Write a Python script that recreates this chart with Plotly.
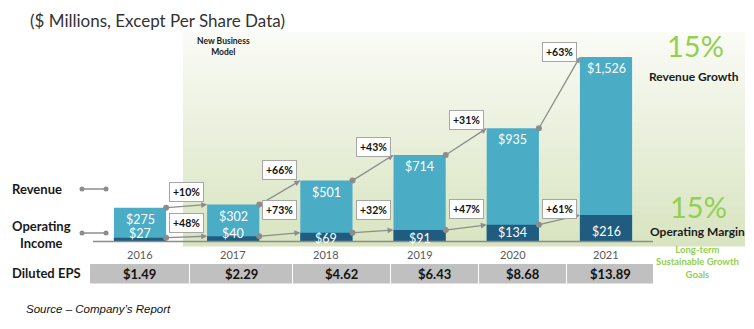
import plotly.graph_objects as go

years = ["2016", "2017", "2018", "2019", "2020", "2021"]
revenue = [275, 302, 501, 714, 935, 1526]
op_income = [27, 40, 69, 91, 134, 216]
rev_growth = ["+10%", "+66%", "+43%", "+31%", "+63%"]
op_growth = ["+48%", "+73%", "+32%", "+47%", "+61%"]
eps = ["$1.49", "$2.29", "$4.62", "$6.43", "$8.68", "$13.89"]

W, H = 754, 329
FONT = "Lato"
BLUE = "#4bacc6"
DARK = "#1f5c7f"
GREY = "#8c8c8c"
GREEN = "#92d050"

# pixel helpers (paper coords)
def px(x):
    return x / W

def py(y):
    return 1 - y / H

# axis geometry
x0_px, step_px = 140, 93.2
base_px = 241
scale = 184 / 1526.0
xr = [-x0_px / step_px, (W - x0_px) / step_px]
yr = [-(H - base_px) / scale, base_px / scale]
bw = 0.56
xs = list(range(len(years)))

fig = go.Figure()
fig.add_trace(go.Bar(x=xs, y=revenue, width=bw, marker=dict(color=BLUE, line=dict(width=0)), hoverinfo="skip"))
fig.add_trace(go.Bar(x=xs, y=op_income, width=bw, marker=dict(color=DARK, line=dict(width=0)), hoverinfo="skip"))

shapes = []
# gradient background
n = 60
top_c = (250, 251, 246)
bot_c = (216, 228, 192)
gy0, gy1 = 32, 246
for k in range(n):
    t = k / (n - 1)
    c = tuple(int(round(top_c[j] + (bot_c[j] - top_c[j]) * t)) for j in range(3))
    ya = gy0 + (gy1 - gy0) * k / n
    yb = gy0 + (gy1 - gy0) * (k + 1) / n + 0.5
    shapes.append(dict(type="rect", xref="paper", yref="paper", x0=px(183), x1=px(745),
                       y0=py(yb), y1=py(ya), fillcolor="rgb(%d,%d,%d)" % c, line=dict(width=0), layer="below"))

# baseline
shapes.append(dict(type="line", xref="paper", yref="paper", x0=px(93), x1=px(653), y0=py(241.5), y1=py(241.5),
                   line=dict(color=GREY, width=1.5), layer="above"))

# legend lines
for ly in [189, 233]:
    shapes.append(dict(type="line", xref="paper", yref="paper", x0=px(82), x1=px(106), y0=py(ly), y1=py(ly),
                       line=dict(color=GREY, width=1.5)))
    for lx in [82, 106]:
        shapes.append(dict(type="circle", xref="paper", yref="paper", x0=px(lx - 2.5), x1=px(lx + 2.5),
                           y0=py(ly + 2.5), y1=py(ly - 2.5), fillcolor=GREY, line=dict(width=0)))

# EPS boxes
eps_edges = [(90, 189), (190, 292), (293, 390), (391, 478), (479, 566), (567, 653)]
for (a, b) in eps_edges:
    shapes.append(dict(type="rect", xref="paper", yref="paper", x0=px(a), x1=px(b), y0=py(283.5), y1=py(264),
                       fillcolor="#c0c0c0", line=dict(width=0)))

ann = []
# connectors
tails_x, tails_y = [], []
for series in (revenue, op_income):
    for i in range(len(series) - 1):
        tx, ty = i + bw / 2, series[i]
        hx, hy = i + 1 - bw / 2, series[i + 1]
        tails_x.append(tx)
        tails_y.append(ty)
        ann.append(dict(x=hx, y=hy, ax=tx, ay=ty, xref="x", yref="y", axref="x", ayref="y", text="",
                        showarrow=True, arrowhead=2, arrowsize=0.9, arrowwidth=1.3, arrowcolor=GREY, standoff=0))
fig.add_trace(go.Scatter(x=tails_x, y=tails_y, mode="markers", marker=dict(color=GREY, size=6), hoverinfo="skip"))

# bar value labels
for i in xs:
    ann.append(dict(x=i, y=revenue[i], xref="x", yref="y", xanchor="center", yanchor="top", yshift=-2,
                    showarrow=False, text="$" + format(revenue[i], ","),
                    font=dict(family=FONT, size=12.5, color="white")))
op_label_px = [233, 233, 238, 238, 232, 231]
for i in xs:
    ann.append(dict(x=i, y=py(op_label_px[i]), xref="x", yref="paper", xanchor="center", yanchor="middle",
                    showarrow=False, text="$" + str(op_income[i]),
                    font=dict(family=FONT, size=12.5, color="white")))

# growth labels
box = dict(bgcolor="white", bordercolor="#a6a6a6", borderwidth=1, borderpad=3, showarrow=False,
           xanchor="center", yanchor="middle")
rev_box_px = [192, 170, 147, 120, 52]
op_box_px = [223, 210, 210, 209, 209]
for i in range(len(rev_growth)):
    ann.append(dict(x=i + 0.5, y=py(rev_box_px[i]), xref="x", yref="paper", text="<b>%s</b>" % rev_growth[i],
                    font=dict(family=FONT, size=10.5, color="#111"), **box))
    ann.append(dict(x=i + 0.5, y=py(op_box_px[i]), xref="x", yref="paper", text="<b>%s</b>" % op_growth[i],
                    font=dict(family=FONT, size=10.5, color="#111"), **box))

# year labels
for i in xs:
    ann.append(dict(x=i, y=py(254), xref="x", yref="paper", xanchor="center", yanchor="middle",
                    text=years[i], showarrow=False, font=dict(family=FONT, size=11, color="#595959")))

# EPS texts
for (a, b), t in zip(eps_edges, eps):
    ann.append(dict(x=px((a + b) / 2), y=py(274), xref="paper", yref="paper", xanchor="center", yanchor="middle",
                    text="<b>%s</b>" % t, showarrow=False, font=dict(family=FONT, size=13, color="#111")))

def txt(x, y, s, size, color="#1a1a1a", xanchor="center", family=FONT):
    ann.append(dict(x=px(x), y=py(y), xref="paper", yref="paper", text=s, showarrow=False, xanchor=xanchor,
                    yanchor="middle", font=dict(family=family, size=size, color=color)))

txt(28, 20, "($ Millions, Except Per Share Data)", 17, "#333333", xanchor="left")
txt(223, 47, "<b>New Business<br>Model</b>", 8.5, "#1a1a1a")
txt(10, 189, "<b>Revenue</b>", 13, xanchor="left")
txt(10, 234, "<b>Operating<br>Income</b>", 13, xanchor="left")
txt(10, 273, "<b>Diluted EPS</b>", 13, xanchor="left")
txt(695, 45, "15%", 29, GREEN)
txt(694, 76, "<b>Revenue Growth</b>", 12)
txt(698, 206, "15%", 29, GREEN)
txt(697, 231, "<b>Operating Margin</b>", 12)
txt(697, 262, "<b>Long-term<br>Sustainable Growth<br>Goals</b>", 9.5, GREEN)
txt(24, 309, "<i>Source – Company’s Report</i>", 11.5, "#111", xanchor="left", family="Liberation Sans")

fig.update_layout(
    width=W, height=H, margin=dict(l=0, r=0, t=0, b=0),
    paper_bgcolor="white", plot_bgcolor="rgba(0,0,0,0)",
    barmode="overlay", showlegend=False,
    xaxis=dict(range=xr, visible=False, fixedrange=True),
    yaxis=dict(range=yr, visible=False, fixedrange=True),
    shapes=shapes, annotations=ann,
)
fig.write_html("out.html")
